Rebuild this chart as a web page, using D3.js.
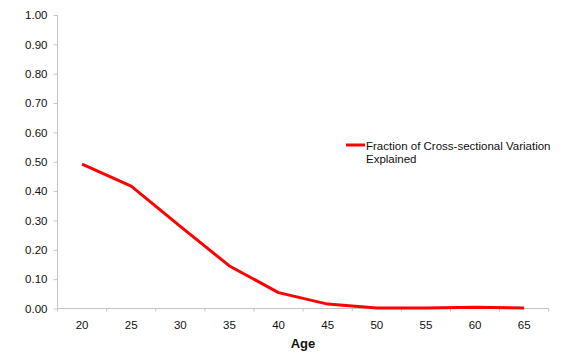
<!DOCTYPE html>
<html><head><meta charset="utf-8">
<script src="https://cdn.jsdelivr.net/npm/d3@7"></script>
<style>body{margin:0;background:#fff;} svg{display:block;font-family:"Liberation Sans",Arial,sans-serif;}</style>
</head><body>
<svg id="c" width="570" height="362"></svg>
<script>
const ages = ["20","25","30","35","40","45","50","55","60","65"];
const fraction = [0.492, 0.417, 0.280, 0.145, 0.054, 0.015, 0.002, 0.002, 0.004, 0.002];
const yTicks = [0,0.1,0.2,0.3,0.4,0.5,0.6,0.7,0.8,0.9,1.0];
const seriesName = ["Fraction of Cross-sectional", "Variation", "Explained"];

const svg = d3.select("#c");
const L = 57.5, R = 548.7, T = 15, B = 308.5;
const x = d3.scaleBand().domain(ages).range([L, R]);
const y = d3.scaleLinear().domain([0,1]).range([B, T]);
const axisColor = "#c4c4c4";

// y axis
const ya = svg.append("g").attr("transform", `translate(${L},0)`)
  .call(d3.axisLeft(y).tickValues(yTicks).tickFormat(d3.format(".2f")).tickSize(4).tickPadding(6));
ya.select(".domain").attr("stroke", axisColor).attr("d", `M0,${B}V${T}`);
ya.selectAll(".tick line").attr("stroke", axisColor);
ya.selectAll(".tick text").attr("font-size", "11.5px").attr("fill", "#111").attr("font-family", "Liberation Sans, Arial, sans-serif");

// x axis
const xa = svg.append("g").attr("transform", `translate(0,${B})`)
  .call(d3.axisBottom(x).tickSize(0).tickPadding(12));
xa.select(".domain").attr("stroke", axisColor).attr("d", `M${L},0H${R}`);
xa.selectAll(".tick text").attr("font-size", "11.5px").attr("fill", "#111").attr("font-family", "Liberation Sans, Arial, sans-serif");
// boundary ticks
const bounds = ages.map(a => x(a)).concat([R]);
xa.selectAll(".bt").data(bounds).enter().append("line")
  .attr("x1", d => d).attr("x2", d => d).attr("y1", 0).attr("y2", 3)
  .attr("stroke", axisColor);

svg.append("text").attr("x", 303).attr("y", 348).attr("text-anchor", "middle")
  .attr("font-weight", "bold").attr("font-size", "13px").attr("fill", "#111").text("Age");

// line
const line = d3.line().x((d,i) => x(ages[i]) + x.bandwidth()/2).y(d => y(d));
svg.append("path").datum(fraction).attr("d", line).attr("fill", "none")
  .attr("stroke", "#ff0000").attr("stroke-width", 3).attr("stroke-linejoin", "round");

// legend
svg.append("line").attr("x1", 346).attr("x2", 365).attr("y1", 145).attr("y2", 145)
  .attr("stroke", "#ff0000").attr("stroke-width", 3);
const lt = svg.append("text").attr("font-size", "11.5px").attr("fill", "#111");
lt.append("tspan").attr("x", 366).attr("y", 149.5).text(seriesName[0] + " " + seriesName[1]);
lt.append("tspan").attr("x", 366).attr("y", 163).text(seriesName[2]);
</script>
</body></html>
